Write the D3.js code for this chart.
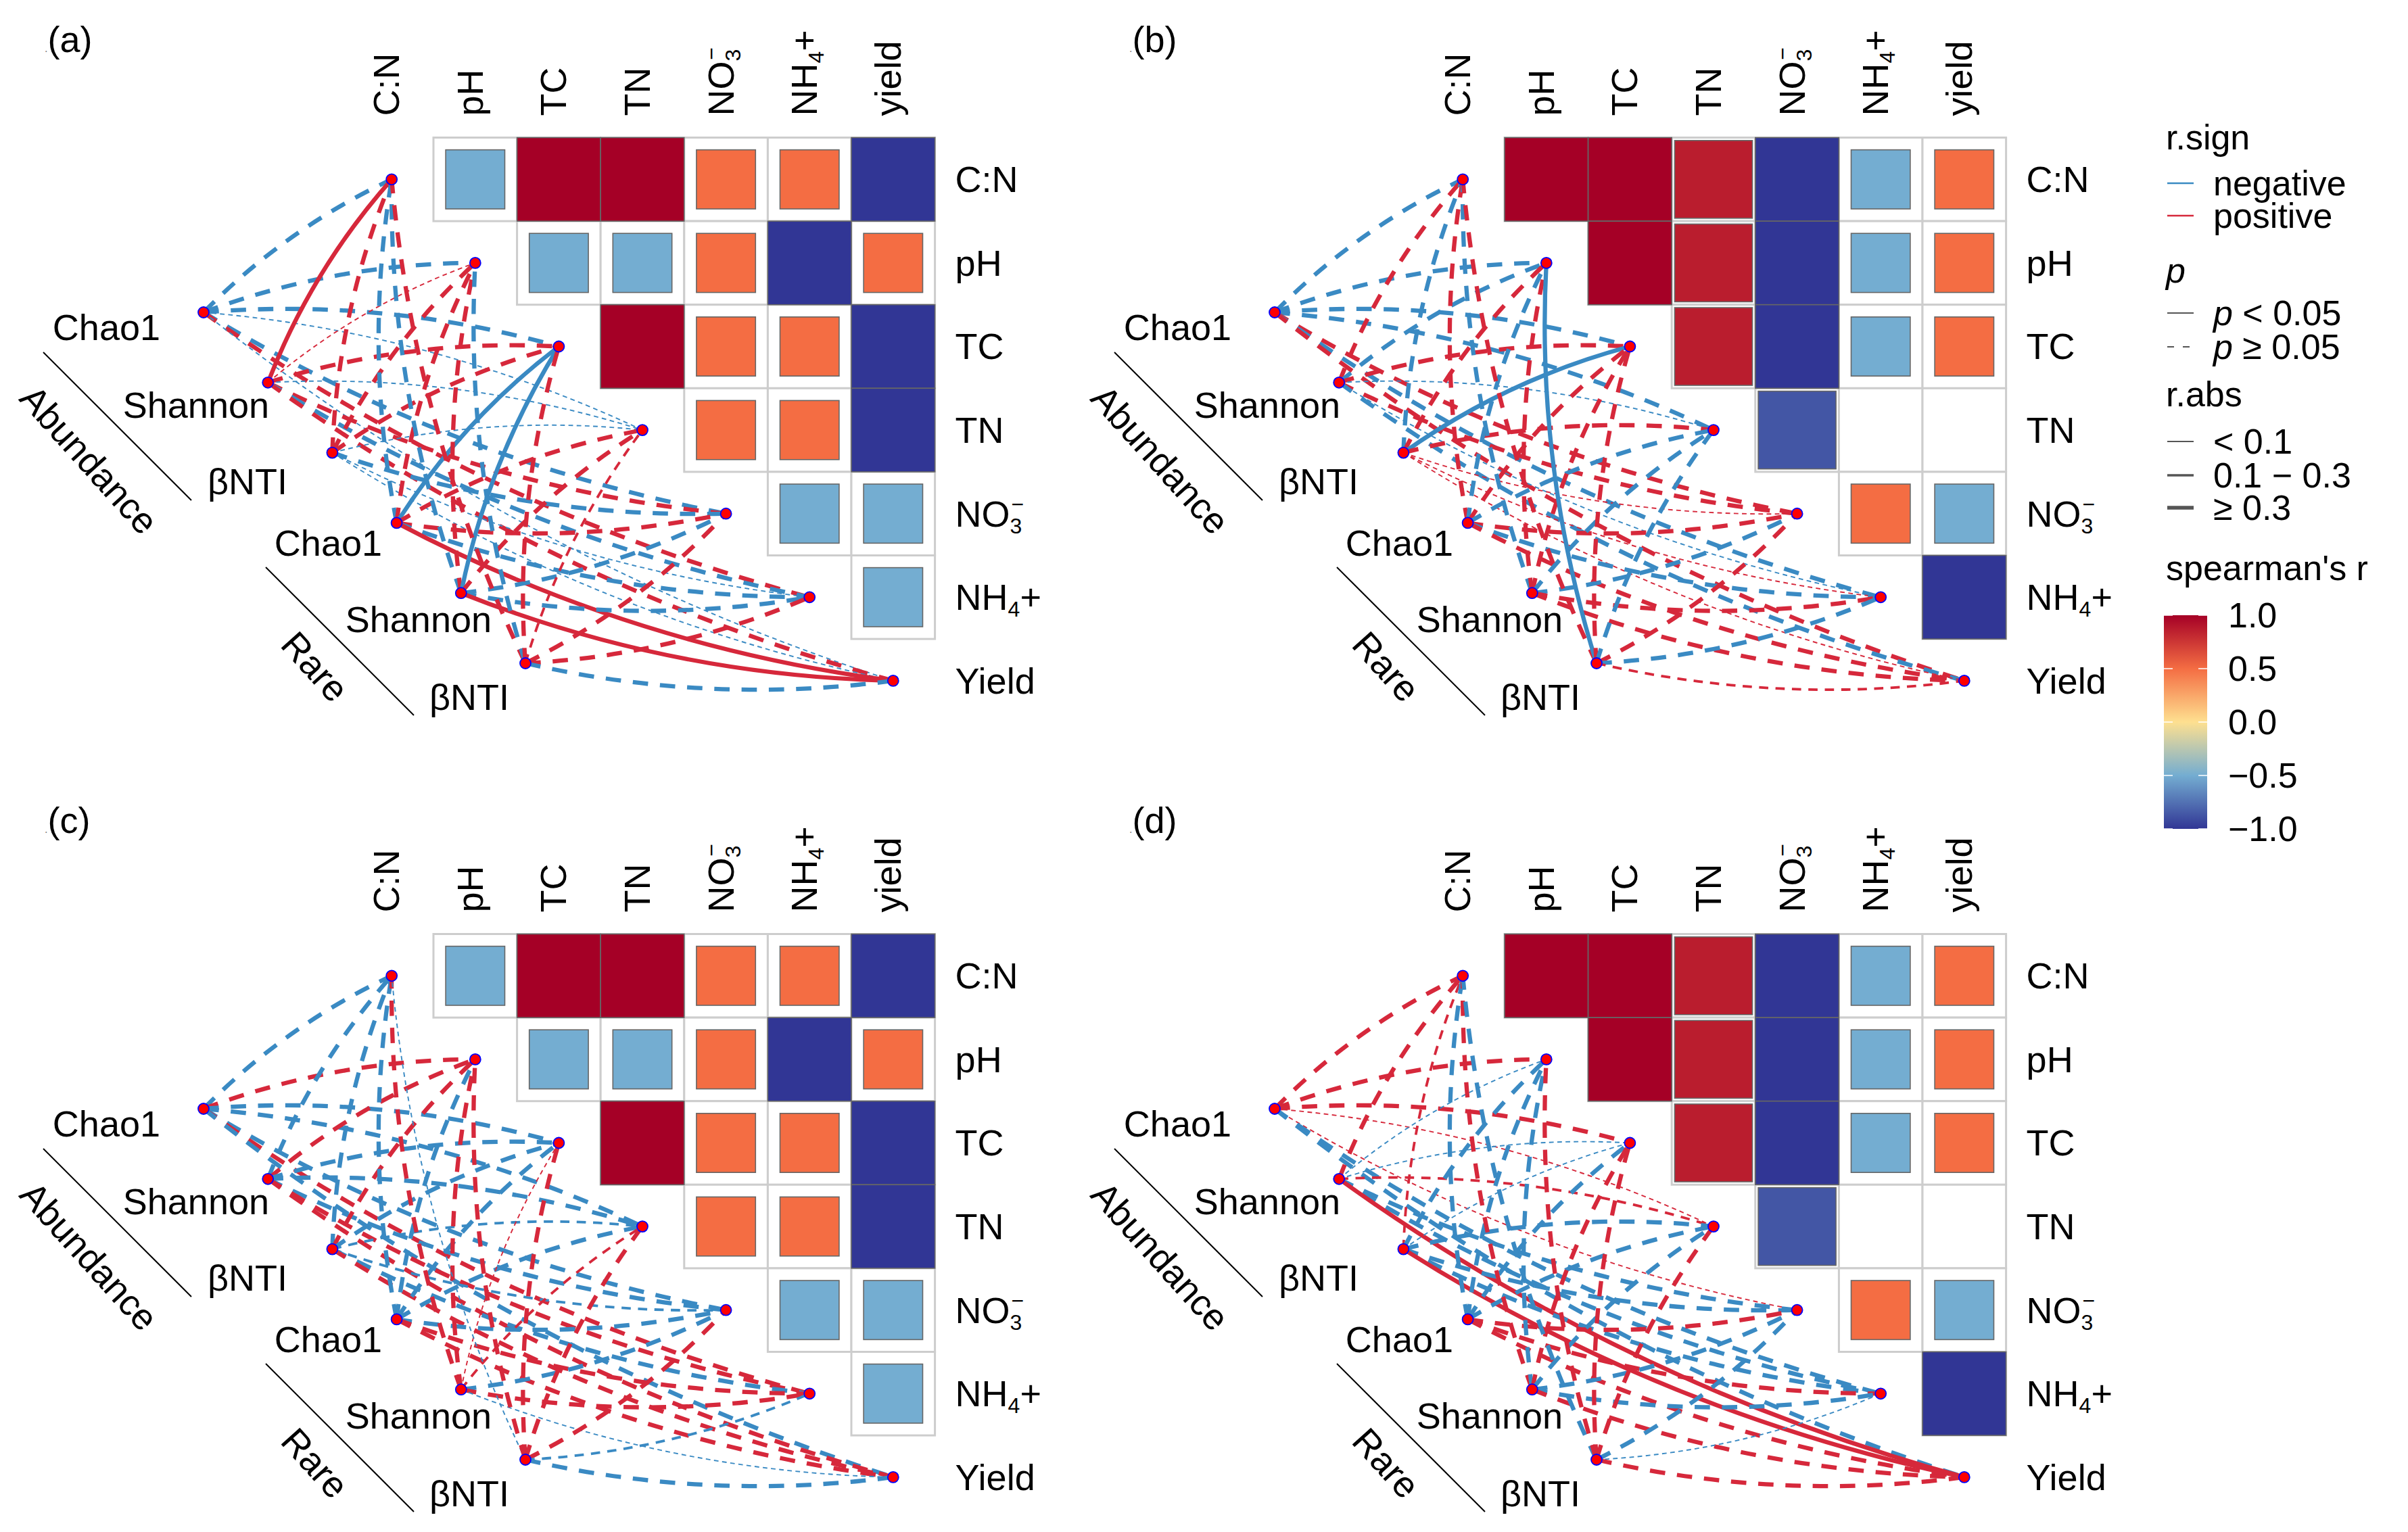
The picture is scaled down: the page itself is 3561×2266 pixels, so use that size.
<!DOCTYPE html>
<html>
<head>
<meta charset="utf-8">
<script src="https://cdn.jsdelivr.net/npm/d3@7"></script>
<style>
body { margin: 0; background: #fff; }
svg { display: block; font-family: "Liberation Sans", Arial, sans-serif; }
</style>
</head>
<body>
<div id="container"></div>
<script>
const width = 3561;
const height = 2266;

// ---- data ----
const envTopLabels = ["C:N", "pH", "TC", "TN", "NO3-", "NH4+", "yield"];
const envSideLabels = ["C:N", "pH", "TC", "TN", "NO3-", "NH4+", "Yield"];
const specNames = ["Chao1", "Shannon", "βNTI", "Chao1", "Shannon", "βNTI"];
const specGroups = ["Abundance", "Rare"];
const panelLabels = ["(a)", "(b)", "(c)", "(d)"];

// spearman's r between environmental factors (upper triangle, row i vs columns i+1..6)
const corrAC = [
  [-0.5, 1, 1, 0.5, 0.5, -1],
  [-0.5, -0.5, 0.5, -1, 0.5],
  [1, 0.5, 0.5, -1],
  [0.5, 0.5, -1],
  [-0.5, -0.5],
  [-0.5]
];
const corrBD = [
  [1, 1, 0.866, -1, -0.5, 0.5],
  [1, 0.866, -1, -0.5, 0.5],
  [0.866, -1, -0.5, 0.5],
  [-0.866, 0, 0],
  [0.5, -0.5],
  [-1]
];

// mantel r (rows: Abundance Chao1, Shannon, βNTI, Rare Chao1, Shannon, βNTI; cols: C:N..Yield)
const mantelR_a = [
  [-0.4, -0.4, -0.4, -0.05, -0.4, 0.4, -0.05],
  [0.45, 0.05, 0.4, -0.05, 0.4, -0.4, 0.4],
  [0.4, 0.4, 0.4, -0.05, -0.4, -0.05, -0.05],
  [-0.4, 0.4, -0.45, 0.4, 0.4, -0.4, 0.45],
  [-0.4, 0.4, -0.45, 0.4, -0.4, -0.4, 0.45],
  [0.4, -0.4, 0.4, 0.2, 0.4, 0.4, -0.4]
];
const mantelP_a = [
  [0.3, 0.3, 0.3, 0.3, 0.3, 0.3, 0.3],
  [0.02, 0.3, 0.3, 0.3, 0.3, 0.3, 0.3],
  [0.3, 0.3, 0.3, 0.3, 0.3, 0.3, 0.3],
  [0.3, 0.3, 0.02, 0.3, 0.3, 0.3, 0.02],
  [0.3, 0.3, 0.02, 0.3, 0.3, 0.3, 0.02],
  [0.3, 0.3, 0.3, 0.3, 0.3, 0.3, 0.3]
];
const mantelR_b = [
  [-0.4, -0.4, -0.4, -0.4, 0.4, -0.4, 0.4],
  [0.4, -0.4, 0.4, -0.05, 0.4, -0.05, -0.4],
  [-0.4, 0.4, -0.45, 0.4, 0.05, 0.05, 0.05],
  [0.4, -0.4, 0.4, -0.4, 0.4, -0.4, 0.4],
  [-0.4, 0.4, 0.4, -0.4, -0.4, 0.4, 0.4],
  [0.4, -0.45, 0.4, -0.4, 0.4, -0.4, 0.2]
];
const mantelP_b = [
  [0.3, 0.3, 0.3, 0.3, 0.3, 0.3, 0.3],
  [0.3, 0.3, 0.3, 0.3, 0.3, 0.3, 0.3],
  [0.3, 0.3, 0.02, 0.3, 0.3, 0.3, 0.3],
  [0.3, 0.3, 0.3, 0.3, 0.3, 0.3, 0.3],
  [0.3, 0.3, 0.3, 0.3, 0.3, 0.3, 0.3],
  [0.3, 0.02, 0.3, 0.3, 0.3, 0.3, 0.3]
];
const mantelR_c = [
  [-0.4, 0.4, -0.4, -0.4, -0.4, 0.4, -0.4],
  [-0.4, 0.4, -0.4, -0.4, -0.4, 0.4, 0.4],
  [-0.4, 0.4, -0.4, -0.2, -0.2, -0.4, 0.4],
  [-0.4, -0.4, -0.4, -0.4, -0.4, 0.4, 0.4],
  [0.4, 0.4, 0.05, 0.1, -0.4, 0.4, -0.05],
  [-0.05, 0.4, 0.4, 0.4, 0.4, -0.2, -0.4]
];
const mantelP_c = [
  [0.3, 0.3, 0.3, 0.3, 0.3, 0.3, 0.3],
  [0.3, 0.3, 0.3, 0.3, 0.3, 0.3, 0.3],
  [0.3, 0.3, 0.3, 0.3, 0.3, 0.3, 0.3],
  [0.3, 0.3, 0.3, 0.3, 0.3, 0.3, 0.3],
  [0.3, 0.3, 0.3, 0.3, 0.3, 0.3, 0.3],
  [0.3, 0.3, 0.3, 0.3, 0.3, 0.3, 0.3]
];
const mantelR_d = [
  [0.4, 0.4, 0.4, 0.05, 0.05, -0.4, -0.4],
  [0.4, -0.05, -0.05, 0.2, -0.4, -0.4, 0.45],
  [0.2, -0.4, -0.05, -0.4, -0.4, -0.4, 0.45],
  [-0.4, -0.4, -0.4, -0.4, 0.4, 0.4, 0.4],
  [0.4, -0.4, 0.4, -0.4, -0.4, -0.4, 0.4],
  [-0.4, 0.4, 0.4, 0.4, -0.4, -0.05, 0.4]
];
const mantelP_d = [
  [0.3, 0.3, 0.3, 0.3, 0.3, 0.3, 0.3],
  [0.3, 0.3, 0.3, 0.3, 0.3, 0.3, 0.02],
  [0.3, 0.3, 0.3, 0.3, 0.3, 0.3, 0.02],
  [0.3, 0.3, 0.3, 0.3, 0.3, 0.3, 0.3],
  [0.3, 0.3, 0.3, 0.3, 0.3, 0.3, 0.3],
  [0.3, 0.3, 0.3, 0.3, 0.3, 0.3, 0.3]
];

const legendBreaks = [1, 0.5, 0, -0.5, -1];

// ---- layout ----
const cell = 123.6;
const gridX0 = 517.4, gridY0 = 203.5;
const panelOffsets = [[0, 0], [1584, 0], [0, 1178], [1584, 1178]];
const panelLabelPos = [[66, 58], [1670, 58], [66, 1213], [1670, 1213]];
const labelRight = [237, 398, 425, 565, 727, 753];
const labelY = [484, 599, 712, 803, 916, 1031];
const groupLines = [[64, 521, 283, 740], [393, 839, 612, 1058]];
const groupText = [[132, 680], [466, 986]];

const blue = "#3A8AC3", red = "#D6283B";
const fill = d3.scaleLinear()
  .domain([-1, -0.5, 0, 0.5, 1])
  .range(["#313695", "#74ADD1", "#FEE090", "#F46D43", "#A50026"]);
const edgeColor = d3.scaleOrdinal().domain(["negative", "positive"]).range([blue, red]);
const edgeWidth = d3.scaleThreshold().domain([0.1, 0.3]).range([1.9, 3.8, 6.3]);

const svg = d3.select("#container").append("svg")
  .attr("width", width)
  .attr("height", height)
  .attr("viewBox", `0 0 ${width} ${height}`);

svg.append("rect").attr("width", width).attr("height", height).attr("fill", "#fff");

function chem(sel, s) {
  if (s === "NO3-") {
    sel.append("tspan").text("NO");
    sel.append("tspan").attr("font-size", 32).attr("dy", 10).text("3");
    sel.append("tspan").attr("font-size", 32).attr("dx", -16).attr("dy", -32).text("−");
  } else if (s === "NH4+") {
    sel.append("tspan").text("NH");
    sel.append("tspan").attr("font-size", 32).attr("dy", 10).text("4");
    sel.append("tspan").attr("dy", -10).text("+");
  } else {
    sel.text(s);
  }
}

// curved link like linkET's geom_couple
function couple(s, t, row) {
  const dx = t.x - s.x, dy = t.y - s.y;
  const L = Math.hypot(dx, dy);
  const sgn = row <= 3 ? 1 : -1;
  const k = 0.09 * L * sgn;
  const cx = (s.x + t.x) / 2 + (dy / L) * k;
  const cy = (s.y + t.y) / 2 + (-dx / L) * k;
  return `M${s.x},${s.y}Q${cx},${cy} ${t.x},${t.y}`;
}

const corrSets = [corrAC, corrBD, corrAC, corrBD];
const rSets = [mantelR_a, mantelR_b, mantelR_c, mantelR_d];
const pSets = [mantelP_a, mantelP_b, mantelP_c, mantelP_d];

panelOffsets.forEach((off, pi) => {
  const g = svg.append("g").attr("transform", `translate(${off[0]},${off[1]})`);
  const x = d3.scaleBand().domain(d3.range(7)).range([gridX0, gridX0 + 7 * cell]);
  const y = d3.scaleBand().domain(d3.range(7)).range([gridY0, gridY0 + 7 * cell]);
  const bw = x.bandwidth();
  const specX = d3.scalePoint().domain(d3.range(6)).range([301, 777]);
  const specY = d3.scalePoint().domain(d3.range(6)).range([462, 981]);

  const cells = [];
  corrSets[pi].forEach((row, i) => row.forEach((v, k) => cells.push({ i, j: i + 1 + k, r: v })));

  g.selectAll("rect.cell").data(cells).join("rect")
    .attr("class", "cell")
    .attr("x", d => x(d.j)).attr("y", d => y(d.i))
    .attr("width", bw).attr("height", bw)
    .attr("fill", "#fff").attr("stroke", "#CDCDCD").attr("stroke-width", 3);

  g.selectAll("rect.sq").data(cells.filter(d => d.r !== 0)).join("rect")
    .attr("class", "sq")
    .each(function (d) {
      const s = bw * Math.sqrt(Math.abs(d.r));
      d3.select(this)
        .attr("x", x(d.j) + (bw - s) / 2).attr("y", y(d.i) + (bw - s) / 2)
        .attr("width", s).attr("height", s);
    })
    .attr("fill", d => fill(d.r)).attr("stroke", "#666").attr("stroke-width", 1.6);

  // top labels
  envTopLabels.forEach((lab, j) => {
    const t = g.append("text")
      .attr("transform", `translate(${x(j) + bw / 2 - 8},${gridY0 - 32}) rotate(-90)`)
      .attr("dy", "0.35em").attr("font-size", 54);
    chem(t, lab);
  });
  // side labels
  envSideLabels.forEach((lab, i) => {
    const t = g.append("text")
      .attr("x", gridX0 + 7 * cell + 30).attr("y", y(i) + bw / 2)
      .attr("dy", "0.35em").attr("font-size", 54);
    chem(t, lab);
  });

  // links
  const env = d3.range(7).map(i => ({ x: x(i) + bw / 2, y: y(i) + bw / 2 }));
  const spec = d3.range(6).map(i => ({ x: specX(i), y: specY(i) }));
  const links = [];
  rSets[pi].forEach((row, si) => row.forEach((r, ei) => links.push({ si, ei, r, p: pSets[pi][si][ei] })));

  g.selectAll("path.link").data(links).join("path")
    .attr("class", "link")
    .attr("d", d => couple(spec[d.si], env[d.ei], d.ei))
    .attr("fill", "none")
    .attr("stroke", d => edgeColor(d.r < 0 ? "negative" : "positive"))
    .attr("stroke-width", d => edgeWidth(Math.abs(d.r)))
    .attr("stroke-dasharray", d => {
      if (d.p < 0.05) return null;
      const w = edgeWidth(Math.abs(d.r));
      return `${3.6 * w},${2.8 * w}`;
    });

  g.selectAll("circle.node").data(env.concat(spec)).join("circle")
    .attr("class", "node")
    .attr("cx", d => d.x).attr("cy", d => d.y).attr("r", 8)
    .attr("fill", "#FF0000").attr("stroke", "#0000FF").attr("stroke-width", 1.8);

  // spec labels
  specNames.forEach((s, i) => {
    g.append("text").attr("x", labelRight[i]).attr("y", labelY[i])
      .attr("dy", "0.35em").attr("text-anchor", "end").attr("font-size", 54).text(s);
  });

  // group lines and labels
  groupLines.forEach((l, k) => {
    g.append("line").attr("x1", l[0]).attr("y1", l[1]).attr("x2", l[2]).attr("y2", l[3])
      .attr("stroke", "#000").attr("stroke-width", 2);
    g.append("text")
      .attr("transform", `translate(${groupText[k][0]},${groupText[k][1]}) rotate(48)`)
      .attr("text-anchor", "middle").attr("dy", "0.35em").attr("font-size", 54)
      .text(specGroups[k]);
  });
});

// panel labels
panelLabels.forEach((lab, i) => {
  const t = svg.append("text").attr("x", panelLabelPos[i][0]).attr("y", panelLabelPos[i][1])
    .attr("dy", "0.35em").attr("font-size", 54);
  t.append("tspan").attr("font-size", 16).attr("fill", "#777").text(".");
  t.append("tspan").text(lab);
});

// ---- legend ----
const lg = svg.append("g");
const fs = 52;
const lx = 3203, kx1 = 3205, kx2 = 3244, tx = 3273;
lg.append("text").attr("x", lx).attr("y", 203).attr("dy", "0.35em").attr("font-size", fs).text("r.sign");
[["negative", 271], ["positive", 319]].forEach(([s, yy]) => {
  lg.append("line").attr("x1", kx1).attr("x2", kx2).attr("y1", yy).attr("y2", yy)
    .attr("stroke", edgeColor(s)).attr("stroke-width", 2.4);
  lg.append("text").attr("x", tx).attr("y", yy).attr("dy", "0.35em").attr("font-size", fs).text(s);
});
lg.append("text").attr("x", lx).attr("y", 400).attr("dy", "0.35em").attr("font-size", fs)
  .attr("font-style", "italic").text("p");
[["< 0.05", 463, null], ["≥ 0.05", 513, "10,13"]].forEach(([s, yy, dash]) => {
  lg.append("line").attr("x1", kx1).attr("x2", kx2).attr("y1", yy).attr("y2", yy)
    .attr("stroke", "#555").attr("stroke-width", 2).attr("stroke-dasharray", dash);
  const t = lg.append("text").attr("x", tx).attr("y", yy).attr("dy", "0.35em").attr("font-size", fs);
  t.append("tspan").attr("font-style", "italic").text("p");
  t.append("tspan").text(" " + s);
});
lg.append("text").attr("x", lx).attr("y", 583).attr("dy", "0.35em").attr("font-size", fs).text("r.abs");
[["< 0.1", 653, 2], ["0.1 − 0.3", 703, 3.5], ["≥ 0.3", 751, 5.6]].forEach(([s, yy, w]) => {
  lg.append("line").attr("x1", kx1).attr("x2", kx2).attr("y1", yy).attr("y2", yy)
    .attr("stroke", "#555").attr("stroke-width", w);
  lg.append("text").attr("x", tx).attr("y", yy).attr("dy", "0.35em").attr("font-size", fs).text(s);
});
lg.append("text").attr("x", lx).attr("y", 840).attr("dy", "0.35em").attr("font-size", fs).text("spearman's r");

const cbY = d3.scaleLinear().domain([1, -1]).range([910, 1226]);
const grad = svg.append("defs").append("linearGradient").attr("id", "cbar")
  .attr("x1", 0).attr("x2", 0).attr("y1", 0).attr("y2", 1);
legendBreaks.forEach((v, i) => {
  grad.append("stop").attr("offset", i / 4).attr("stop-color", fill(v));
});
lg.append("rect").attr("x", 3200).attr("y", cbY(1)).attr("width", 64).attr("height", cbY(-1) - cbY(1))
  .attr("fill", "url(#cbar)");
legendBreaks.forEach(v => {
  lg.append("line").attr("x1", 3200).attr("x2", 3213).attr("y1", cbY(v)).attr("y2", cbY(v))
    .attr("stroke", "#fff").attr("stroke-width", 1.5);
  lg.append("line").attr("x1", 3251).attr("x2", 3264).attr("y1", cbY(v)).attr("y2", cbY(v))
    .attr("stroke", "#fff").attr("stroke-width", 1.5);
  lg.append("text").attr("x", 3295).attr("y", cbY(v)).attr("dy", "0.35em").attr("font-size", fs)
    .text(d3.format(".1f")(v).replace("-", "−"));
});
</script>
</body>
</html>
